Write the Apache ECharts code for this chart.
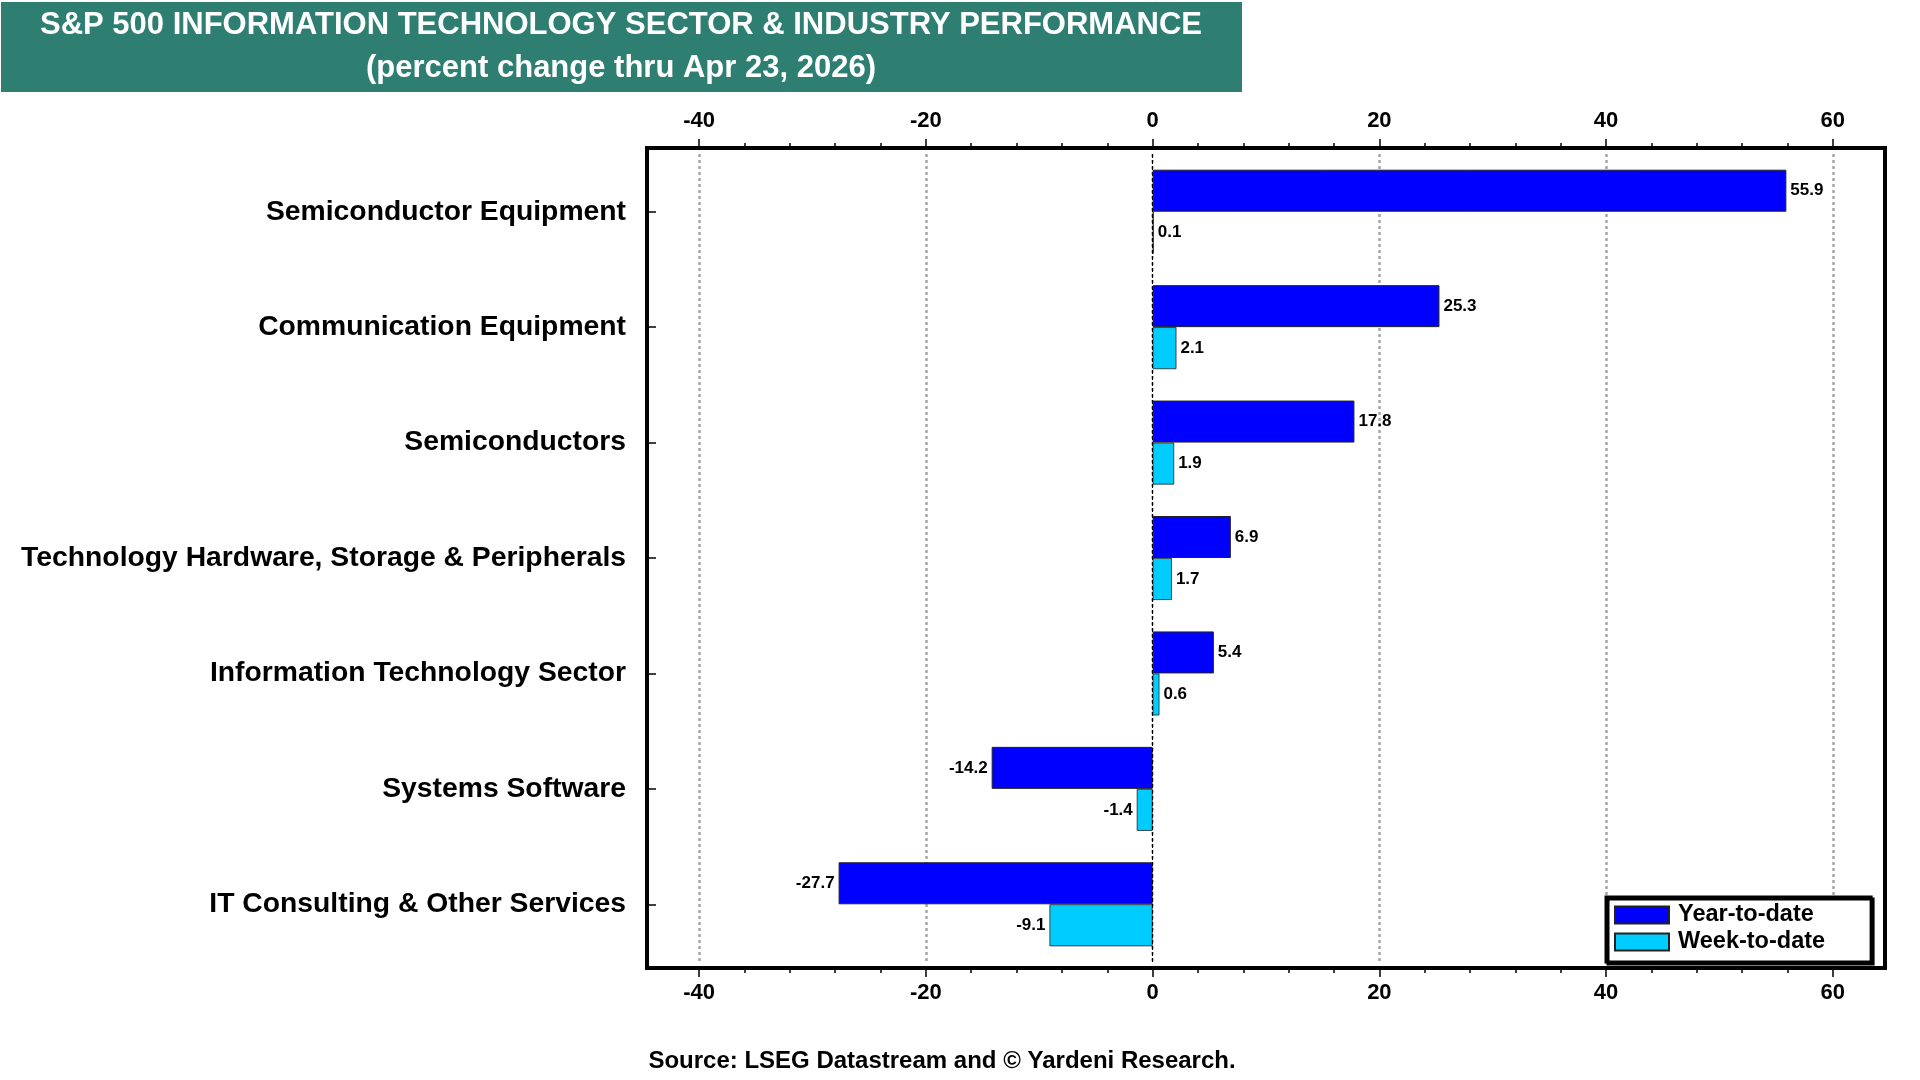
<!DOCTYPE html>
<html><head><meta charset="utf-8">
<script src="https://cdn.jsdelivr.net/npm/echarts@6/dist/echarts.min.js"></script>
<style>html,body{margin:0;padding:0;background:#fff}#c{width:1920px;height:1080px}</style>
</head><body><div id="c"></div>
<script>
const categories = [
  'Semiconductor Equipment',
  'Communication Equipment',
  'Semiconductors',
  'Technology Hardware, Storage & Peripherals',
  'Information Technology Sector',
  'Systems Software',
  'IT Consulting & Other Services'
];
const ytdValues = [55.9, 25.3, 17.8, 6.9, 5.4, -14.2, -27.7];
const wtdValues = [0.1, 2.1, 1.9, 1.7, 0.6, -1.4, -9.1];
const seriesNames = ['Year-to-date', 'Week-to-date'];
const majorTicks = [-40, -20, 0, 20, 40, 60];
const minorTicks = [-36, -32, -28, -24, -16, -12, -8, -4, 4, 8, 12, 16, 24, 28, 32, 36, 44, 48, 52, 56];
const zeroLine = [0];
const titleLines = ['S&P 500 INFORMATION TECHNOLOGY SECTOR & INDUSTRY PERFORMANCE', '(percent change thru Apr 23, 2026)'];
const sourceText = 'Source: LSEG Datastream and \u00A9 Yardeni Research.';

const FONT = '"Liberation Sans", Arial, sans-serif';
const X_MIN = -44.6, X_MAX = 64.6;
const GRID = { left: 647, right: 35, top: 154, bottom: 118 };
const FRAME = { x: 647, y: 148, w: 1238, h: 820 };

function barData(vals) {
  return vals.map(v => ({
    value: v,
    label: { position: v < 0 ? 'left' : 'right' }
  }));
}
const labelFmt = p => Number(p.value).toFixed(1);
const majorFmt = v => (Math.abs(v % 20) < 1e-9 ? String(v) : '');

function xAxisDef(pos, major) {
  const off = pos === 'top' ? GRID.top - FRAME.y : (FRAME.y + FRAME.h) - (1080 - GRID.bottom);
  return {
    type: 'value', position: pos, min: X_MIN, max: X_MAX, offset: off,
    minInterval: major ? 20 : 4, maxInterval: major ? 20 : 4,
    axisLine: { show: false, onZero: false },
    axisTick: {
      show: true, inside: false, length: major ? 9 : 5,
      customValues: major ? majorTicks : minorTicks,
      lineStyle: { color: '#000', width: 1.5 }
    },
    axisLabel: major ? {
      show: true, customValues: majorTicks, formatter: majorFmt,
      fontFamily: FONT, fontSize: 22, fontWeight: 'bold', color: '#000',
      margin: pos === 'top' ? 16 : 14
    } : { show: false },
    splitLine: (major && pos === 'bottom') ? {
      show: true, lineStyle: { color: '#A6A6A6', width: 2.5, type: [3, 3] }
    } : { show: false }
  };
}

const chart = echarts.init(document.getElementById('c'));
chart.setOption({
  animation: false,
  backgroundColor: '#fff',
  grid: { left: GRID.left, right: GRID.right, top: GRID.top, bottom: GRID.bottom, containLabel: false },
  xAxis: [xAxisDef('bottom', true), xAxisDef('bottom', false), xAxisDef('top', true), xAxisDef('top', false)],
  yAxis: [{
    type: 'category', data: categories, inverse: true, position: 'left',
    axisLine: { show: false, onZero: false },
    axisTick: { show: true, inside: true, alignWithLabel: true, length: 9, lineStyle: { color: '#000', width: 1.5 } },
    axisLabel: { fontFamily: FONT, fontSize: 28.3, fontWeight: 'bold', color: '#000', margin: 21 },
    splitLine: { show: false }
  }],
  legend: {
    data: seriesNames, orient: 'vertical', left: 1606, top: 897,
    itemWidth: 54, itemHeight: 17, itemGap: 3,
    padding: [6, 46, 8, 8],
    backgroundColor: '#fff', borderColor: '#000', borderWidth: 3,
    shadowColor: '#000', shadowBlur: 0, shadowOffsetX: 2, shadowOffsetY: 2,
    icon: 'rect',
    textStyle: { fontFamily: FONT, fontSize: 23.5, fontWeight: 'bold', color: '#000', padding: [0, 0, 0, 4] }
  },
  series: [
    {
      name: seriesNames[0], type: 'bar', xAxisIndex: 0, yAxisIndex: 0,
      data: barData(ytdValues), barWidth: 42, barGap: '0%',
      itemStyle: { color: '#0000FF', borderColor: '#222', borderWidth: 1 },
      label: { show: true, distance: 4, formatter: labelFmt, fontFamily: FONT, fontSize: 17, fontWeight: 'bold', color: '#000' },
      markLine: {
        silent: true, symbol: 'none', label: { show: false },
        lineStyle: { color: '#000', width: 1, type: [4, 2] },
        data: zeroLine.map(v => ({ xAxis: v }))
      }
    },
    {
      name: seriesNames[1], type: 'bar', xAxisIndex: 0, yAxisIndex: 0,
      data: barData(wtdValues), barWidth: 42, barGap: '0%',
      itemStyle: { color: '#00CCFF', borderColor: '#222', borderWidth: 0.8 },
      label: { show: true, distance: 4, formatter: labelFmt, fontFamily: FONT, fontSize: 17, fontWeight: 'bold', color: '#000' }
    }
  ],
  graphic: [
    { type: 'rect', shape: { x: 1, y: 2, width: 1241, height: 90 }, style: { fill: '#2E7F72' }, z: 10 },
    { type: 'text', x: 621, y: 25, z: 11, style: { text: titleLines[0], fill: '#fff', font: 'bold 31px ' + FONT, align: 'center', verticalAlign: 'middle' } },
    { type: 'text', x: 621, y: 68, z: 11, style: { text: titleLines[1], fill: '#fff', font: 'bold 31px ' + FONT, align: 'center', verticalAlign: 'middle' } },
    { type: 'rect', shape: { x: FRAME.x, y: FRAME.y, width: FRAME.w, height: FRAME.h }, style: { fill: 'none', stroke: '#000', lineWidth: 4 }, z: 50, silent: true },
    { type: 'text', x: 942, y: 1061, z: 11, style: { text: sourceText, fill: '#000', font: 'bold 24px ' + FONT, align: 'center', verticalAlign: 'middle' } }
  ]
});
</script></body></html>
